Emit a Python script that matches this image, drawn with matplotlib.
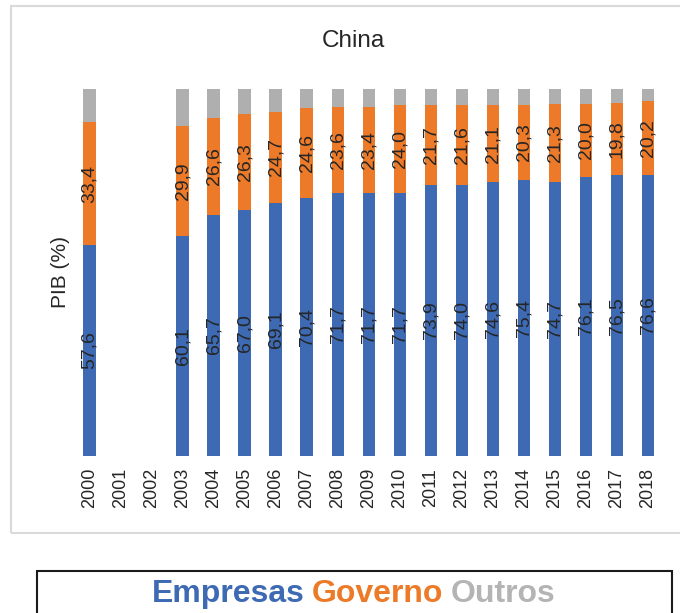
import matplotlib.pyplot as plt
import matplotlib.patches as mpatches
import numpy as np

# Distribution of R&D expenditure by funding sector, China (% of total)
years = [str(y) for y in range(2000, 2019)]
empresas = [57.6, None, None, 60.1, 65.7, 67.0, 69.1, 70.4, 71.7, 71.7,
            71.7, 73.9, 74.0, 74.6, 75.4, 74.7, 76.1, 76.5, 76.6]
governo = [33.4, None, None, 29.9, 26.6, 26.3, 24.7, 24.6, 23.6, 23.4,
           24.0, 21.7, 21.6, 21.1, 20.3, 21.3, 20.0, 19.8, 20.2]
outros = [9.0, None, None, 10.0, 7.7, 6.7, 6.2, 5.0, 4.7, 4.9,
          4.3, 4.4, 4.4, 4.3, 4.3, 4.0, 3.9, 3.7, 3.2]

COLOR_EMP = "#3D6AB3"
COLOR_GOV = "#EC7A28"
COLOR_OUT = "#AFAFAF"
COLOR_TEXT = "#262626"

plt.rcParams['font.family'] = ['Liberation Sans', 'DejaVu Sans']

W, H = 680, 613
fig = plt.figure(figsize=(W / 100, H / 100), dpi=100)

# outer chart frame and legend frame
fig.patches.append(mpatches.Rectangle((11 / W, 1 - 533 / H), 680 / W, 527 / H,
                                      transform=fig.transFigure, fill=False,
                                      edgecolor="#D9D9D9", linewidth=1.5))
fig.patches.append(mpatches.Rectangle((37 / W, 1 - 640 / H), 635 / W, 69 / H,
                                      transform=fig.transFigure, fill=False,
                                      edgecolor="#1A1A1A", linewidth=1.5))

ax = fig.add_axes([74 / W, 1 - 456 / H, 589.5 / W, 366.7 / H])

emp = np.array([np.nan if v is None else v for v in empresas])
gov = np.array([np.nan if v is None else v for v in governo])
out = np.array([np.nan if v is None else v for v in outros])
x = np.arange(len(years))
has = ~np.isnan(emp)

bw = 0.4
ax.bar(x[has], emp[has], bw, color=COLOR_EMP)
ax.bar(x[has], gov[has], bw, bottom=emp[has], color=COLOR_GOV)
ax.bar(x[has], out[has], bw, bottom=emp[has] + gov[has], color=COLOR_OUT)

for xi, e, g in zip(x[has], emp[has], gov[has]):
    ax.text(xi, e / 2, f"{e:.1f}".replace(".", ","), rotation=90,
            ha="center", va="center", fontsize=14, color=COLOR_TEXT)
    ax.text(xi, e + g / 2, f"{g:.1f}".replace(".", ","), rotation=90,
            ha="center", va="center", fontsize=14, color=COLOR_TEXT)

ax.set_xlim(-0.5, len(years) - 0.5)
ax.set_ylim(0, 100)
ax.set_xticks(x)
ax.set_xticklabels(years, rotation=90, fontsize=13, color=COLOR_TEXT)
ax.tick_params(axis="x", length=0, pad=8.5)
ax.set_yticks([])
for s in ax.spines.values():
    s.set_visible(False)
ax.set_facecolor("none")

fig.text(61 / W, 1 - 272 / H, "PIB (%)", rotation=90, ha="center", va="center",
         fontsize=15, color=COLOR_TEXT)
fig.text(353 / W, 1 - 41 / H, "China", ha="center", va="center",
         fontsize=17.5, color=COLOR_TEXT)

# legend as coloured words
leg_y = 1 - 594 / H
t1 = fig.text(152 / W, leg_y, "Empresas", color=COLOR_EMP, fontsize=23,
              fontweight="bold", ha="left", va="center")
fig.canvas.draw()
r = fig.canvas.get_renderer()
bb = t1.get_window_extent(r)
sp = 7
t2 = fig.text((bb.x1 + sp) / W, leg_y, "Governo", color=COLOR_GOV, fontsize=23,
              fontweight="bold", ha="left", va="center")
bb2 = t2.get_window_extent(r)
fig.text((bb2.x1 + sp) / W, leg_y, "Outros", color="#B4B4B4", fontsize=23,
         fontweight="bold", ha="left", va="center")

fig.savefig("out.png", dpi=100)
